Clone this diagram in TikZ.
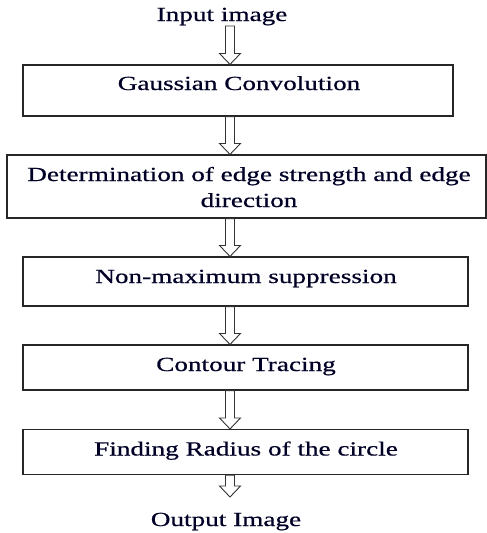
\documentclass[tikz,border=0pt]{standalone}
\usepackage{fontspec}
\setmainfont{Liberation Serif}[FakeStretch=1.36, FakeBold=0.6]
\usetikzlibrary{calc}
\tikzset{
  box/.style={draw=black!85, line width=1.1pt, rectangle, inner sep=0pt},
  txt/.style={anchor=base, inner sep=0pt, font=\fontsize{20}{26}\selectfont, text=black!85!blue},
  hollow/.style={draw=black!80, line width=0.9pt, fill=white},
}
\newcommand{\hollowarrow}[2]{%
  \draw[hollow] let \p1=(#1), \p2=(#2) in
    (\x1-4.5pt,\y1) -- (\x1-4.5pt,\y2+11pt) -- (\x1-10.5pt,\y2+11pt) -- (\x1,\y2)
    -- (\x1+10.5pt,\y2+11pt) -- (\x1+4.5pt,\y2+11pt) -- (\x1+4.5pt,\y1) -- cycle;}
\begin{document}
\begin{tikzpicture}[x=1pt,y=-1pt]
\useasboundingbox (0,0) rectangle (487,533);
\coordinate (ax) at (230,0);
% boxes
\node[box, minimum width=430pt, minimum height=51pt] (b1) at (238,90.5) {};
\node[box, minimum width=479pt, minimum height=63pt] (b2) at (246.5,186.5) {};
\node[box, minimum width=445pt, minimum height=49pt] (b3) at (245.5,281.5) {};
\node[box, minimum width=445pt, minimum height=45pt] (b4) at (245.5,367.5) {};
\node[box, minimum width=445pt, minimum height=45pt] (b5) at (245.5,452) {};
% texts
\node[txt] (tin) at (222,21) {Input image};
\node[txt] (t1) at (239,90) {Gaussian Convolution};
\node[txt] (t2a) at (249,181) {Determination of edge strength and edge};
\node[txt] (t2b) at (249,207) {direction};
\node[txt] (t3) at (246,283) {Non-maximum suppression};
\node[txt] (t4) at (246,371) {Contour Tracing};
\node[txt] (t5) at (246,455.5) {Finding Radius of the circle};
\node[txt] (tout) at (226,526) {Output Image};
\coordinate (top0) at (230,26);
\coordinate (bot6) at (230,497);
% arrows
\hollowarrow{top0}{b1.north -| ax}
\hollowarrow{b1.south -| ax}{b2.north -| ax}
\hollowarrow{b2.south -| ax}{b3.north -| ax}
\hollowarrow{b3.south -| ax}{b4.north -| ax}
\hollowarrow{b4.south -| ax}{b5.north -| ax}
\hollowarrow{b5.south -| ax}{bot6}
\end{tikzpicture}
\end{document}
